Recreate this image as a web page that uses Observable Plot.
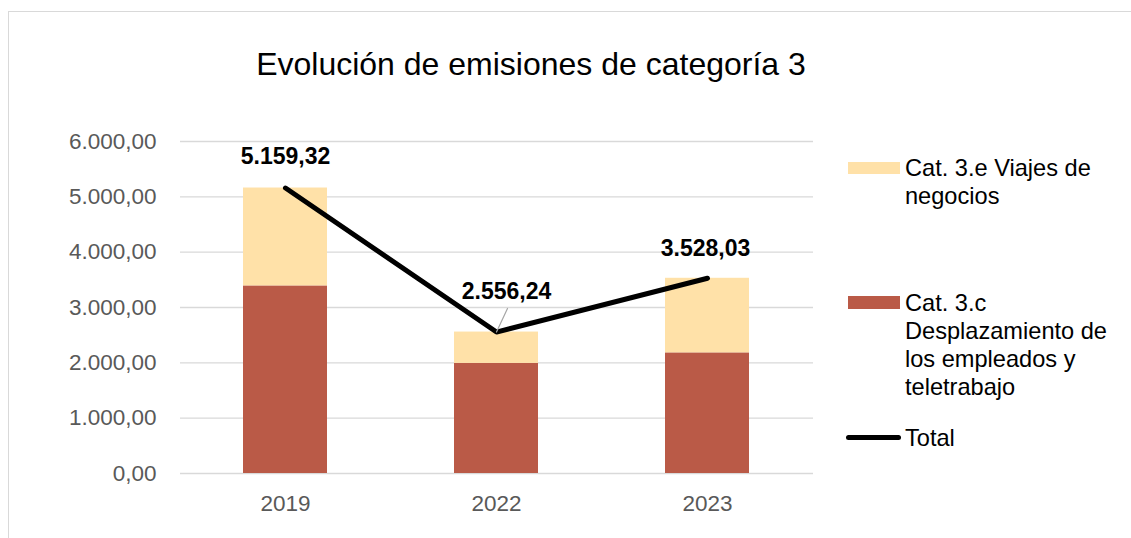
<!DOCTYPE html>
<html>
<head>
<meta charset="utf-8">
<script src="https://cdn.jsdelivr.net/npm/d3@7"></script>
<script src="https://cdn.jsdelivr.net/npm/@observablehq/plot@0.6"></script>
<style>
  html, body { margin: 0; padding: 0; background: #fff; }
  #wrap { position: relative; width: 1131px; height: 538px; overflow: hidden; font-family: "Liberation Sans", Arial, sans-serif; }
  #frame { position: absolute; left: 8px; top: 11px; width: 1300px; height: 700px; border: 1.5px solid #D9D9D9; box-sizing: border-box; }
  #chart { position: absolute; left: 0; top: 0; }
  #title { position: absolute; left: 0; top: 48px; width: 1062px; text-align: center; font-size: 32px; line-height: 32px; color: #000; white-space: nowrap; }
  .item { position: absolute; left: 905px; width: 230px; font-size: 23.6px; line-height: 28px; color: #000; }
  .sw { position: absolute; }
</style>
</head>
<body>
<div id="wrap">
  <div id="frame"></div>
  <div id="chart"></div>
  <div id="title"></div>
  <div id="legend"></div>
</div>
<script>
// ---- data ----
const titleText = "Evolución de emisiones de categoría 3";
const years = ["2019", "2022", "2023"];
const seriesNames = ["Cat. 3.c Desplazamiento de los empleados y teletrabajo", "Cat. 3.e Viajes de negocios"];
const desplazamiento = [3390, 1990, 2180];
const viajes = [1769.32, 566.24, 1348.03];
const totals = [5159.32, 2556.24, 3528.03];
const totalName = "Total";
const yTicks = [0, 1000, 2000, 3000, 4000, 5000, 6000];
const seriesColors = ["#BA5A47", "#FFE1A8"];

// ---- tables ----
const es = d3.formatLocale({decimal: ",", thousands: ".", grouping: [3], currency: ["", " €"]});
const fmt = es.format(",.2f");

const stackRows = [];
years.forEach((yr, i) => {
  stackRows.push({year: yr, series: seriesNames[0], value: desplazamiento[i]});
  stackRows.push({year: yr, series: seriesNames[1], value: viajes[i]});
});
const totalRows = years.map((yr, i) => ({year: yr, total: totals[i]}));
const byYear = (yr) => totalRows.filter(d => d.year === yr);

const labelOpts = {x: "year", y: "total", text: d => fmt(d.total), fontWeight: "bold", fontSize: 23, fill: "#000"};

const plot = Plot.plot({
  width: 1131,
  height: 538,
  marginLeft: 180,
  marginRight: 318,
  marginTop: 141,
  marginBottom: 65,
  x: {domain: years, paddingInner: 0.6, paddingOuter: 0.3, axis: null},
  y: {domain: [0, 6000], axis: null},
  color: {domain: seriesNames, range: seriesColors},
  style: {fontFamily: "Liberation Sans, Arial, sans-serif", background: "transparent", overflow: "visible"},
  marks: [
    Plot.ruleY(yTicks, {stroke: "#D9D9D9", strokeWidth: 1.3}),
    Plot.barY(stackRows, {x: "year", y: "value", fill: "series", order: null}),
    Plot.line(totalRows, {x: "year", y: "total", stroke: "#000", strokeWidth: 5, strokeLinecap: "round", strokeLinejoin: "round"}),
    Plot.vector(byYear("2022"), {x: "year", y: "total", length: 26, rotate: 25, anchor: "start", stroke: "#A6A6A6", strokeWidth: 1.2,
      shape: {draw(ctx, l) { ctx.moveTo(0, 0); ctx.lineTo(0, -l); }}}),
    Plot.text(byYear("2019"), {...labelOpts, dx: 0, dy: -31}),
    Plot.text(byYear("2022"), {...labelOpts, dx: 10, dy: -40}),
    Plot.text(byYear("2023"), {...labelOpts, dx: -2, dy: -30}),
    Plot.axisY(yTicks, {tickSize: 0, tickPadding: 24, tickFormat: fmt, fontSize: 22.5, fill: "#595959", label: null}),
    Plot.axisX({tickSize: 0, tickPadding: 22, fontSize: 22.5, fill: "#595959", label: null})
  ]
});
document.getElementById("chart").appendChild(plot);
document.getElementById("title").textContent = titleText;

// ---- legend ----
const legend = document.getElementById("legend");
const items = [
  {label: seriesNames[1], color: seriesColors[1], top: 154, kind: "rect", sx: 848, sy: 162, sw: 52, sh: 12},
  {label: seriesNames[0], color: seriesColors[0], top: 289, kind: "rect", sx: 848, sy: 296, sw: 52, sh: 13},
  {label: totalName, color: "#000", top: 424, kind: "line", sx: 846, sy: 435, sw: 55, sh: 5}
];
items.forEach(it => {
  const t = document.createElement("div");
  t.className = "item";
  t.style.top = it.top + "px";
  t.textContent = it.label;
  legend.appendChild(t);
  const s = document.createElement("div");
  s.className = "sw";
  s.style.left = it.sx + "px";
  s.style.top = it.sy + "px";
  s.style.width = it.sw + "px";
  s.style.height = it.sh + "px";
  s.style.background = it.color;
  if (it.kind === "line") s.style.borderRadius = "3px";
  legend.appendChild(s);
});
</script>
</body>
</html>
